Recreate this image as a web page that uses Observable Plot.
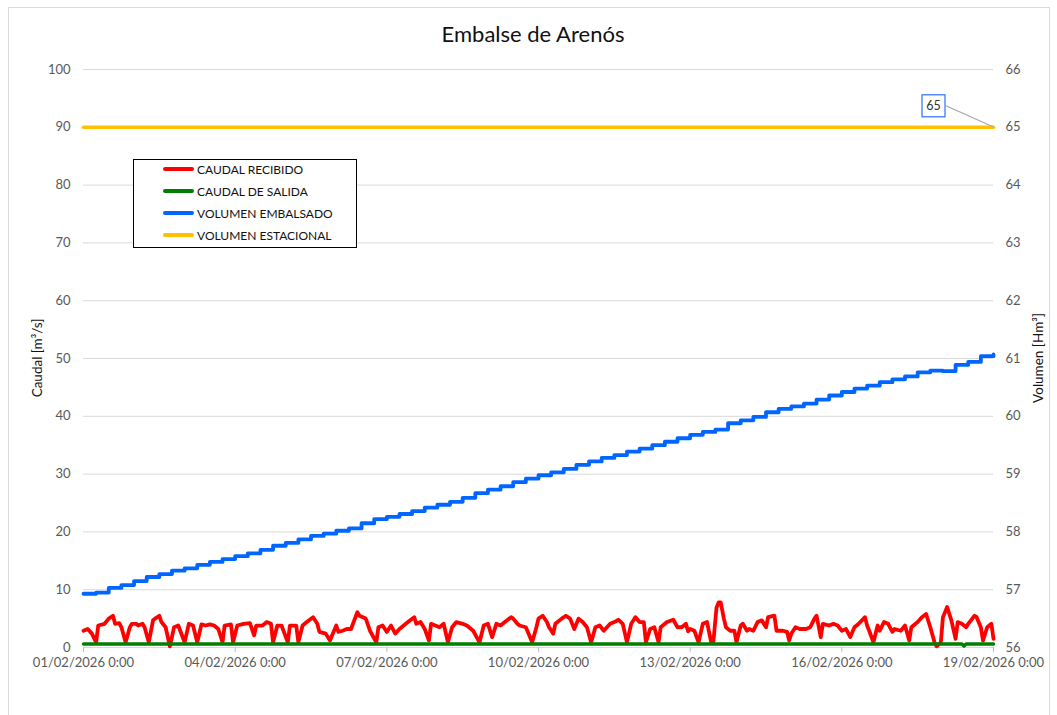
<!DOCTYPE html>
<html><head><meta charset="utf-8">
<script src="https://cdn.jsdelivr.net/npm/d3@7"></script>
<script src="https://cdn.jsdelivr.net/npm/@observablehq/plot@0.6"></script>
<style>
body{margin:0;background:#fff;font-family:Lato,"Noto Sans",sans-serif;}
#wrap{position:relative;width:1057px;height:715px;overflow:hidden;background:#fff;}
#frame{position:absolute;left:8px;top:7px;width:1042px;height:730px;border:1px solid #d9d9d9;box-sizing:border-box;}
#chart{position:absolute;left:0;top:0;}
#title{position:absolute;left:0;top:20px;width:1066px;text-align:center;font-size:22px;color:#111;}
.ytitle{position:absolute;font-size:13.5px;color:#111;white-space:nowrap;transform:translate(-50%,-50%) rotate(-90deg);}
#legend{position:absolute;left:133px;top:159px;width:224px;height:89px;border:1px solid #000;box-sizing:border-box;background:#fff;}
.lrow{position:absolute;left:29px;height:22px;display:flex;align-items:center;font-size:12px;color:#111;}
.sw{display:inline-block;width:31px;height:4px;border-radius:2px;margin-right:3px;}
</style></head>
<body>
<div id="wrap">
  <div id="frame"></div>
  <div id="chart"></div>
  <div id="title">Embalse de Arenós</div>
  <div class="ytitle" style="left:37px;top:358px;">Caudal [m³/s]</div>
  <div class="ytitle" style="left:1038px;top:358px;">Volumen [Hm³]</div>
  <div id="legend"></div>
</div>
<script>
// ---- data ----
const startDate = Date.UTC(2026, 1, 1);
const endHour = 432;

const recibidoHoras = [0,2,4,6,7,10,12,14,15,17,18,20,22,23,25,26,28,29,31,33,34,36,37,39,41,43,45,48,50,52,54,56,58,60,62,64,66,67,70,71,73,76,79,81,82,85,87,89,90,92,94,97,98,101,102,104,106,109,111,112,115,117,120,121,123,125,127,130,131,134,136,139,140,142,
144,146,148,150,152,154,157,158,160,162,164,165,167,169,171,173,175,177,180,182,185,188,190,192,194,196,198,200,203,204,206,207,210,213,215,216,218,220,221,223,224,227,229,231,233,235,237,239,241,243,245,247,250,252,254,256,258,260,262,264,266,267,269,271,273,274,277,280,282,284,286,287,
288,290,292,294,296,298,299,300.5,301.5,302.5,304,305,307,309,310,312,313,315,316,318,320,322,324,325,328,329,332,334,335,336,338,340,343,345,347,348,350,351,354,356,358,360,362,364,366,368,371,372,373,375,377,378,380,382,384,385,388,390,392,393,396,398,400,402,404,405,407,408,410,412,414,415,417,419,420,423,424,426,427,429,431,432];
const recibidoValores = [2.9,3.2,2.4,0.9,3.8,4.1,5.0,5.5,4.1,4.2,3.5,0.9,3.5,4.1,4.1,3.8,4.1,3.5,0.9,4.7,5.0,5.5,4.4,3.5,0.2,3.5,3.8,0.9,4.1,3.8,0.9,4.0,3.8,4.0,3.8,3.2,0.9,3.8,4.0,0.9,3.8,4.1,4.2,2.1,3.8,3.8,4.4,4.1,0.9,3.8,3.8,0.9,3.8,3.8,0.9,3.8,4.4,5.25,4.1,2.7,2.4,1.2,3.8,2.7,2.9,3.2,3.2,6.1,5.5,5.0,2.9,0.9,3.5,3.8,
2.7,3.8,2.4,3.2,3.8,4.4,5.25,4.1,4.4,3.2,1.2,4.1,3.8,3.5,4.1,0.9,3.5,4.4,4.1,3.8,2.9,0.9,3.8,4.1,1.8,4.1,3.8,4.4,5.25,5.0,4.1,3.8,3.5,0.9,3.5,5.0,5.5,4.4,3.5,2.4,4.1,5.0,5.5,5.0,3.2,5.0,4.4,3.5,0.9,3.5,3.8,2.9,4.1,4.4,4.8,4.1,0.9,4.1,5.25,4.4,4.4,0.9,3.2,3.5,0.9,3.5,4.4,4.8,3.5,3.5,4.1,2.8,
3.2,2.9,0.9,4.1,4.4,0.9,0.9,6.9,7.8,7.8,5.0,3.5,2.9,2.9,0.9,3.8,4.1,2.9,3.2,2.9,4.4,4.7,3.5,5.25,5.5,2.9,2.9,2.7,1.2,2.4,3.5,3.2,3.2,3.5,5.0,5.5,1.8,4.1,3.8,4.1,3.8,2.9,3.2,1.8,3.5,4.1,5.25,3.8,2.9,0.9,3.8,2.9,4.4,4.1,2.7,3.2,2.9,3.8,1.2,3.5,4.4,5.25,5.8,3.5,0.9,0.2,0.9,5.25,7.0,4.7,1.5,4.4,4.1,3.5,4.1,5.5,5.25,3.5,1.2,3.5,4.1,1.5];

const salidaHoras = [0,72,144,216,288,360,417,418,419,432];
const salidaValores = [0.6,0.6,0.6,0.6,0.6,0.6,0.6,0.25,0.6,0.6];

const embalsadoHoras = d3.range(0, 433, 6);
const embalsadoValores = [56.93,56.95,57.03,57.08,57.15,57.22,57.27,57.33,57.37,57.43,57.48,57.53,57.58,57.63,57.69,57.76,57.81,57.87,57.93,57.97,58.02,58.06,58.15,58.22,58.26,58.31,58.36,58.42,58.47,58.52,58.59,58.67,58.73,58.79,58.86,58.92,58.98,59.03,59.09,59.16,59.22,59.28,59.33,59.39,59.44,59.50,59.56,59.62,59.68,59.73,59.77,59.88,59.93,59.99,60.07,60.13,60.17,60.22,60.29,60.36,60.42,60.48,60.53,60.59,60.64,60.69,60.76,60.79,60.78,60.89,60.94,61.04,61.07];

const estacionalHoras = [0, 432];
const estacionalValores = [65, 65];

const leftTicks = [0,10,20,30,40,50,60,70,80,90,100];
const rightTickLabels = ["56","57","58","59","60","61","62","63","64","65","66"];
const xTickHoras = [0,72,144,216,288,360,432];
const xTickLabels = ["01/02/2026 0:00","04/02/2026 0:00","07/02/2026 0:00","10/02/2026 0:00","13/02/2026 0:00","16/02/2026 0:00","19/02/2026 0:00"];

const seriesNames = ["CAUDAL RECIBIDO","CAUDAL DE SALIDA","VOLUMEN EMBALSADO","VOLUMEN ESTACIONAL"];
const seriesColors = ["#ff0000","#008000","#0066ff","#ffc000"];
const calloutLabel = "65";

// ---- build tables ----
const toDate = h => new Date(startDate + h * 3600e3);
const volToLeft = v => (v - 56) * 10;
const recibido = recibidoHoras.map((h,i) => ({t: toDate(h), v: recibidoValores[i]}));
const salida = salidaHoras.map((h,i) => ({t: toDate(h), v: salidaValores[i]}));
const embalsado = embalsadoHoras.map((h,i) => ({t: toDate(h), v: volToLeft(embalsadoValores[i])}));
const estacional = estacionalHoras.map((h,i) => ({t: toDate(h), v: volToLeft(estacionalValores[i])}));
const xTicks = xTickHoras.map(toDate);

const plot = Plot.plot({
  width: 1057, height: 715,
  marginLeft: 83, marginRight: 64, marginTop: 69, marginBottom: 68,
  style: {fontFamily: "Lato, 'Noto Sans', sans-serif", fontSize: "13px", color: "#595959", background: "transparent", overflow: "visible"},
  x: {type: "utc", domain: [toDate(0), toDate(endHour)]},
  y: {domain: [0, 100]},
  marks: [
    Plot.gridY(leftTicks, {stroke: "#d9d9d9", strokeOpacity: 1, strokeWidth: 1}),
    Plot.ruleY([0], {stroke: "#d9d9d9"}),
    Plot.axisY(leftTicks, {anchor: "left", tickSize: 0, tickPadding: 13, tickFormat: d => String(d), label: null, fill: "#595959"}),
    Plot.axisY(leftTicks, {anchor: "right", tickSize: 0, tickPadding: 12, tickFormat: d => rightTickLabels[leftTicks.indexOf(d)], label: null, fill: "#595959"}),
    Plot.axisX(xTicks, {tickSize: 5, tickPadding: 5, stroke: "#bfbfbf", fill: "#595959", label: null,
      tickFormat: d => xTickLabels[xTicks.findIndex(t => +t === +d)]}),
    Plot.line(recibido, {x: "t", y: "v", stroke: seriesColors[0], strokeWidth: 3.8, strokeLinejoin: "round", strokeLinecap: "round"}),
    Plot.line(salida, {x: "t", y: "v", stroke: seriesColors[1], strokeWidth: 3.5}),
    Plot.line(embalsado, {x: "t", y: "v", stroke: seriesColors[2], strokeWidth: 3.8, curve: "step-after", strokeLinejoin: "round"}),
    Plot.line(estacional, {x: "t", y: "v", stroke: seriesColors[3], strokeWidth: 3.5})
  ]
});
document.getElementById("chart").appendChild(plot);

// callout label attached to the end of VOLUMEN ESTACIONAL
const sx = plot.scale("x"), sy = plot.scale("y");
const last = estacional[estacional.length - 1];
const px = sx.apply(last.t), py = sy.apply(last.v);
const svg = d3.select(plot);
const g = svg.append("g");
g.append("line").attr("x1", px - 47).attr("y1", py - 21).attr("x2", px).attr("y2", py)
  .attr("stroke", "#a6a6a6").attr("stroke-width", 1.2);
g.append("rect").attr("x", px - 71).attr("y", py - 32).attr("width", 23).attr("height", 22)
  .attr("fill", "#fff").attr("stroke", "#2f6fff").attr("stroke-width", 1.2);
g.append("text").attr("x", px - 59.5).attr("y", py - 21).attr("text-anchor", "middle").attr("dy", "0.35em")
  .attr("font-size", 12.5).attr("fill", "#333").text(calloutLabel);

// legend
const leg = document.getElementById("legend");
seriesNames.forEach((n, i) => {
  const r = document.createElement("div");
  r.className = "lrow";
  r.style.top = (-2 + i * 22) + "px";
  r.innerHTML = `<span class="sw" style="background:${seriesColors[i]}"></span><span>${n}</span>`;
  leg.appendChild(r);
});
</script>
</body></html>
